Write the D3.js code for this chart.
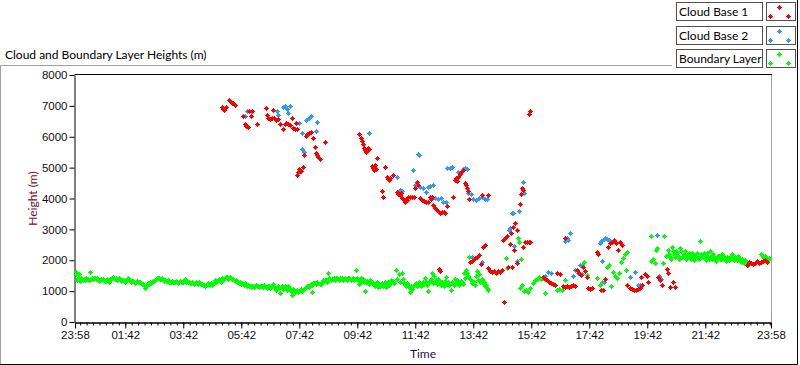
<!DOCTYPE html>
<html lang="en">
<head>
  <meta charset="utf-8">
  <title>Cloud and Boundary Layer Heights</title>
  <script src="https://d3js.org/d3.v7.min.js"></script>
  <style>
    body { margin: 0; background: #fff; }
    svg { display: block; font-family: Lato, "Noto Sans", sans-serif; }
    .axis text { font-size: 11.5px; fill: #111; }
    .axis .domain { stroke: #000; }
    .axis line { stroke: #000; }
  </style>
</head>
<body>
<script>
// [hours after 23:58, height in m]
var cloudBase1 = [
  [5.07,6970],[5.10,6900],[5.14,6870],[5.21,6950],[5.31,7190],[5.34,7160],[5.38,7140],[5.41,7100],[5.45,7080],[5.52,7030],
  [5.79,6670],[5.86,6410],[5.90,6350],[5.97,6330],[6.00,6840],[6.07,6670],[6.10,6840],[6.28,6410],
  [6.59,6930],[6.62,6700],[6.66,6620],[6.72,6580],[6.79,6620],[6.83,6870],[6.86,6600],[6.93,6540],[7.00,6580],
  [7.07,6410],[7.17,6250],[7.24,6400],[7.28,6450],[7.34,6420],[7.41,6380],[7.48,6610],[7.52,6280],[7.59,6260],
  [7.62,6450],[7.66,6250],[7.66,4760],[7.69,4850],[7.72,4950],[7.76,4900],[7.79,4900],[7.86,5020],[7.90,5410],
  [7.97,6030],[8.00,6080],[8.07,6120],[8.14,6150],[8.21,5960],[8.28,5670],[8.31,5470],[8.34,5400],[8.38,5340],
  [8.41,5300],[8.45,5280],[8.62,5830],
  [9.79,6090],[9.86,5960],[9.90,5860],[9.93,5770],[9.97,5620],[10.00,5560],[10.03,5510],[10.07,5580],[10.10,5640],
  [10.14,5600],[10.24,5060],[10.28,5000],[10.31,4920],[10.34,5090],[10.38,4950],[10.41,5310],[10.59,4240],[10.62,4050],
  [10.69,5020],[10.76,4700],[10.79,4620],[10.83,4600],[10.86,4650],[10.97,4760],[11.10,4210],[11.14,4150],[11.21,4110],
  [11.24,4180],[11.28,4020],[11.34,3950],[11.38,3900],[11.41,3980],[11.45,3950],[11.48,4050],[11.55,4050],[11.62,4050],
  [11.69,4060],[11.72,4340],[11.79,4540],[11.83,4440],[11.90,4020],[11.97,3960],[12.03,3930],[12.10,3880],[12.17,3900],
  [12.24,4050],[12.28,4000],[12.31,4050],[12.34,3780],[12.41,3700],[12.48,3620],[12.55,3560],[12.59,3530],[12.66,3560],
  [12.72,3560],[12.76,3530],[12.83,3760],[13.03,4050],[13.10,4600],[13.14,4650],[13.17,4560],[13.21,4700],[13.28,4780],
  [13.31,4850],[13.38,4920],[13.45,4500],[13.48,4440],[13.52,4340],[13.55,4240],[13.59,3980],[14.03,4110],[14.24,4110],
  [12.55,1720],[12.59,1650],
  [13.62,1940],[13.69,1960],[13.72,2000],[13.79,2060],[13.86,2100],[13.93,2170],[14.00,1880],[14.07,2430],[14.14,2490],
  [14.24,1750],[14.31,1650],[14.38,1620],[14.45,1650],[14.52,1600],[14.59,1640],[14.66,1620],[14.72,1680],[14.79,640],
  [14.76,2660],[14.83,2720],[14.90,2800],[14.93,1780],[15.00,2530],[15.03,2880],[15.07,1780],[15.10,3080],[15.14,2330],
  [15.17,3210],[15.24,2980],[15.24,1910],[15.34,3820],[15.38,4150],[15.41,4340],[15.45,4280],[15.45,2430],[15.52,2590],
  [15.59,2590],[15.66,2590],[15.69,2590],[15.66,6750],[15.69,6850],
  [16.14,1460],[16.21,1400],[16.28,1350],[16.34,1300],[16.41,1250],[16.48,1230],[16.55,1200],[16.62,1590],[16.72,1560],
  [16.83,1180],[16.90,1130],[16.90,2720],[16.97,1150],[17.03,1130],[17.10,1160],[17.17,1200],[17.24,1150],[17.31,1700],
  [17.38,1600],[17.45,1520],[17.52,1780],[17.59,1650],[17.66,1460],[17.69,1100],[17.76,1080],[17.83,1100],[18.00,2270],
  [18.03,2200],[18.14,1040],[18.21,1050],[18.28,1400],[18.38,2430],[18.45,2550],[18.52,2600],[18.59,2650],[18.66,2550],
  [18.72,2330],[18.79,2600],[18.86,2500],[19.03,1200],[19.14,1100],[19.21,1060],[19.28,1040],[19.34,1040],[19.41,1060],
  [19.48,1100],[19.52,1460],[19.55,1200],[19.66,1560],[19.72,1500],[19.76,1300],[20.10,1460],[20.17,1350],[20.24,1200],
  [20.41,1720],[20.45,1600],[20.52,1130],[20.62,1300],[20.69,1130],
  [23.17,1850],[23.24,1950],[23.31,1900],[23.38,1880],[23.45,1920],[23.52,1960],[23.59,1900],[23.66,1950],[23.72,1970],
  [23.79,2000],[23.86,1950]
];

var cloudBase2 = [
  [5.86,6670],[5.93,6840],[6.97,6840],[7.00,6700],[7.17,6950],[7.24,7000],[7.31,6900],[7.34,6770],[7.41,6980],
  [7.72,6450],[7.83,6120],[7.83,5600],[7.90,5500],[7.97,6540],[8.07,6600],[8.14,6670],[8.31,6190],[8.34,6480],
  [10.14,6120],[11.10,4700],[11.21,4280],[11.28,4230],[11.66,4920],[11.72,4440],[11.83,5440],[11.86,5400],[11.90,4380],
  [12.00,4340],[12.10,4210],[12.17,4380],[12.24,4400],[12.34,4440],[12.41,4020],[12.52,4000],[12.62,4020],[12.69,3890],
  [12.79,3900],[12.83,4990],[12.93,5000],[13.00,5020],[13.21,4860],[13.38,4960],[13.45,4980],[13.52,4950],[13.55,4180],
  [13.66,4150],[13.72,4000],[13.83,3950],[13.93,4020],[14.03,4050],[14.14,4000],[14.21,3980],[13.69,2100],[14.03,1940],
  [14.97,2980],[15.00,3050],[15.07,3530],[15.10,3530],[15.14,2460],[15.24,1980],[15.31,3600],[15.45,4540],[15.48,4180],
  [16.21,1500],[16.31,1620],[16.41,1590],[16.90,2620],[16.97,2720],[17.00,2650],[17.07,2880],[17.17,1500],[17.24,1700],
  [17.34,1600],[17.41,1850],[17.48,1550],[18.10,2560],[18.14,2620],[18.24,2700],[18.28,2720],[18.34,2680],[18.41,2640],
  [18.17,1960],[18.24,1300],[19.14,1460],[19.31,1620],[19.41,1200],[19.48,1200],[20.07,2820],[20.14,1500],[20.21,1400],
  [23.24,1940]
];

var boundaryLayer = [
  [0.03,1610],[0.03,1560],[0.07,1350],[0.14,1540],[0.17,1330],[0.24,1380],[0.31,1400],[0.38,1440],[0.45,1400],[0.52,1630],
  [0.59,1420],[0.66,1410],[0.72,1380],[0.79,1390],[0.86,1370],[0.93,1360],[1.00,1360],[1.07,1330],[1.14,1340],[1.21,1380],
  [1.28,1420],[1.34,1420],[1.41,1410],[1.48,1400],[1.55,1380],[1.62,1360],[1.69,1320],[1.76,1350],[1.83,1440],[1.90,1340],
  [1.97,1330],[2.03,1300],[2.10,1300],[2.17,1290],[2.24,1280],[2.31,1240],[2.38,1200],[2.41,1110],[2.48,1210],[2.55,1240],
  [2.62,1260],[2.69,1320],[2.76,1360],[2.83,1410],[2.90,1420],[2.97,1390],[3.03,1380],[3.10,1360],[3.17,1330],[3.24,1310],
  [3.31,1300],[3.38,1300],[3.45,1300],[3.52,1290],[3.59,1300],[3.66,1300],[3.72,1310],[3.79,1390],[3.86,1320],[3.93,1280],
  [4.00,1270],[4.07,1260],[4.14,1250],[4.21,1250],[4.28,1280],[4.34,1240],[4.41,1200],[4.48,1180],[4.55,1230],[4.62,1200],
  [4.69,1250],[4.76,1220],[4.83,1350],[4.90,1320],[4.97,1400],[5.03,1300],[5.10,1380],[5.17,1420],[5.24,1450],[5.31,1440],
  [5.38,1420],[5.45,1380],[5.52,1330],[5.59,1300],[5.66,1270],[5.72,1230],[5.79,1220],[5.86,1250],[5.93,1180],[6.00,1150],
  [6.07,1130],[6.14,1160],[6.21,1150],[6.28,1180],[6.34,1130],[6.41,1150],[6.48,1120],[6.55,1160],[6.62,1110],[6.69,1180],
  [6.76,1140],[6.83,1240],[6.93,1050],[7.00,1160],[7.07,940],[7.14,1180],[7.21,1120],[7.28,1080],[7.34,1150],[7.41,1060],
  [7.48,880],[7.55,1030],[7.62,1000],[7.69,980],[7.76,1040],[7.83,1010],[7.90,1060],[7.97,1130],[8.03,1150],[8.10,1190],
  [8.17,1200],[8.17,970],[8.24,1250],[8.31,1220],[8.38,1260],[8.45,1240],[8.48,1240],[8.55,1350],[8.62,1370],[8.69,1300],
  [8.72,1580],[8.79,1400],[8.86,1380],[8.93,1420],[9.00,1410],[9.07,1390],[9.14,1430],[9.21,1420],[9.28,1400],[9.34,1380],
  [9.41,1420],[9.48,1380],[9.55,1400],[9.62,1360],[9.69,1680],[9.72,1410],[9.79,1240],[9.86,1420],[9.93,1380],[10.00,1020],
  [10.03,1300],[10.10,1250],[10.17,1350],[10.24,1280],[10.31,1200],[10.38,1230],[10.45,1130],[10.52,1150],[10.59,1250],
  [10.66,1200],[10.72,1130],[10.79,1300],[10.86,1260],[10.97,1330],[11.07,1680],[11.17,1550],[11.28,1600],[11.34,1250],
  [11.41,1150],[11.48,1200],[11.55,980],[11.62,1080],[11.69,1200],[11.76,1260],[11.83,1230],[11.90,1250],[11.97,1200],
  [12.07,1420],[12.17,1020],[12.24,1320],[12.31,1600],[12.38,1480],[12.45,1360],[12.52,1400],[12.59,1250],[12.66,1310],
  [12.72,1180],[12.79,1470],[12.86,1300],[12.97,1050],[13.03,1220],[13.10,1380],[13.21,1300],[13.28,1260],[13.34,1280],
  [13.41,1600],[13.48,1680],[13.55,1500],[13.59,2100],[13.66,1350],[13.76,1280],[13.86,1650],[13.93,1550],[14.03,1400],
  [14.10,1300],[14.17,1200],[14.24,1030],
  [0.10,1420],[0.21,1440],[0.28,1350],[0.35,1360],[0.41,1380],[0.48,1350],[0.55,1400],[0.62,1380],[0.69,1440],[0.76,1420],
  [0.83,1340],[0.90,1400],[0.97,1390],[1.03,1330],[1.10,1380],[1.17,1310],[1.24,1400],[1.31,1450],[1.38,1380],[1.45,1370],
  [1.52,1420],[1.59,1330],[1.66,1360],[1.72,1300],[1.79,1390],[1.86,1380],[1.93,1300],[2.00,1340],[2.07,1270],[2.14,1330],
  [2.21,1300],[2.28,1270],[2.34,1220],[2.45,1180],[2.52,1250],[2.59,1290],[2.66,1280],[2.72,1340],[2.79,1390],[2.86,1440],
  [2.93,1380],[3.00,1410],[3.07,1340],[3.14,1330],[3.21,1350],[3.28,1280],[3.34,1330],[3.41,1280],[3.48,1320],[3.55,1270],
  [3.62,1320],[3.69,1280],[3.76,1330],[3.83,1300],[3.90,1300],[3.97,1250],[4.03,1290],[4.10,1230],[4.17,1280],[4.24,1220],
  [4.31,1260],[4.38,1230],[4.45,1210],[4.52,1200],[4.59,1260],[4.66,1220],[4.72,1190],[4.79,1260],[4.86,1300],[4.93,1360],
  [5.00,1350],[5.07,1410],[5.14,1380],[5.21,1460],[5.28,1400],[5.34,1470],[5.41,1390],[5.48,1350],[5.55,1370],[5.62,1290],
  [5.69,1310],[5.76,1260],[5.83,1200],[5.90,1230],[5.97,1200],[6.03,1180],[6.10,1170],[6.17,1130],[6.24,1190],[6.31,1150],
  [6.38,1180],[6.45,1160],[6.52,1200],[6.59,1130],[6.66,1150],[6.72,1100],[6.79,1200],[6.86,1120],[7.03,1100],[7.10,1120],
  [7.17,1060],[7.24,1150],[7.31,1040],[7.38,1100],[7.45,1020],[7.52,1060],[7.59,980],[7.66,1050],[7.72,1020],[7.79,1080],
  [7.86,1050],[7.93,1100],[8.00,1180],[8.07,1130],[8.14,1230],[8.21,1270],[8.28,1260],[8.34,1300],
  [8.52,1300],[8.59,1320],[8.66,1360],[8.76,1420],[8.83,1350],[8.90,1390],[8.97,1360],[9.03,1430],[9.10,1370],[9.17,1400],
  [9.24,1370],[9.31,1430],[9.38,1350],[9.45,1410],[9.52,1350],[9.59,1420],[9.66,1380],[9.76,1350],[9.83,1300],[9.90,1330],
  [9.97,1280],[10.07,1320],[10.14,1220],[10.21,1300],[10.28,1240],[10.34,1160],[10.41,1280],[10.48,1200],[10.55,1220],
  [10.62,1150],[10.69,1280],[10.76,1230],[10.83,1200],[10.90,1350],[11.00,1250],[11.10,1380],[11.21,1300],[11.31,1400],
  [11.38,1200],[11.45,1260],[11.52,1120],[11.59,1180],[11.66,1150],[11.72,1230],[11.79,1180],[11.86,1300],[11.93,1160],
  [12.00,1280],[12.03,1240],[12.10,1300],[12.14,1200],[12.21,1280],[12.28,1380],[12.34,1250],[12.41,1300],[12.48,1220],
  [12.55,1350],[12.62,1200],[12.69,1260],[12.76,1320],[12.83,1240],[12.90,1200],[13.00,1300],[13.07,1200],[13.14,1260],
  [13.17,1350],[13.24,1200],[13.31,1340],[13.38,1240],[13.45,1420],[13.52,1580],[13.62,1400],[13.69,1250],[13.72,1300],
  [13.79,1200],[13.83,1500],[13.90,1350],[13.97,1300],[14.07,1250],[14.14,1150],[14.21,1100],
  [14.86,2070],[14.90,1750],[15.28,2720],[15.31,2590],[15.38,2040],[15.34,1100],[15.41,1200],[15.48,1000],[15.55,1050],
  [15.62,960],[15.69,1100],[15.79,1260],[15.86,1350],[15.93,1400],[16.00,1460],[16.07,1380],[16.14,1420],[16.21,940],
  [16.62,1040],[16.69,1070],[16.79,1040],[16.90,1360],[17.48,1850],[17.55,1940],[17.59,1650],[17.66,1520],[18.00,1420],
  [18.10,1200],[18.17,1300],[18.34,1780],[18.41,1850],[18.48,1150],[18.55,1620],[18.62,1500],[18.69,1420],[18.76,1600],
  [18.83,1940],[18.90,2070],[18.97,2200],[19.03,2270],[19.00,1700],
  [19.86,2780],[19.86,1960],[19.93,2030],[20.00,1910],[20.03,2330],[20.07,2400],[20.28,1910],[20.31,2770],[20.45,2330],
  [20.52,2100],[20.59,2430],[20.66,2200],[20.72,2300],[20.79,2150],[20.86,2400],[20.93,2100],[21.00,2200],[21.07,2050],
  [21.14,2150],[21.21,2100],[21.28,2250],[21.34,2000],[21.41,2200],[21.48,2100],[21.55,2620],[21.62,2150],[21.69,2250],
  [21.76,2000],[21.83,2120],[21.90,2300],[21.97,2050],[22.03,2100],[22.10,1980],[22.17,2150],[22.24,2030],[22.31,2200],
  [22.38,2080],[22.45,1960],[22.52,2050],[22.59,2100],[22.66,2200],[22.72,2000],[22.79,2050],[22.86,2150],[22.93,1980],
  [23.00,2050],[23.07,1900],[23.14,1950],[23.21,1850],[23.66,2200],[23.83,2070],[23.93,2070],
  [20.38,2150],[20.48,2200],[20.55,2050],[20.62,2300],[20.69,2100],[20.76,2250],[20.83,2050],[20.90,2300],[20.97,2150],
  [21.03,2300],[21.10,2150],[21.17,2250],[21.24,2050],[21.31,2150],[21.38,2100],[21.45,2250],[21.52,2050],[21.59,2200],
  [21.66,2100],[21.72,2150],[21.79,2250],[21.86,2050],[21.93,2150],[22.00,2200],[22.07,2050],[22.14,2100],[22.21,2150],
  [22.28,2050],[22.34,2150],[22.41,2000],[22.48,2100],[22.55,2000],[22.62,2150],[22.69,2050],[22.76,2100],[22.83,2000],
  [22.90,2080],[22.97,1950],[23.03,2000],[23.10,2000],[23.28,1900],[23.72,2100],[23.79,2150],[23.90,2000]
];

var yTicks = [0, 1000, 2000, 3000, 4000, 5000, 6000, 7000, 8000];
var xTickLabels = ["23:58","01:42","03:42","05:42","07:42","09:42","11:42","13:42","15:42","17:42","19:42","21:42","23:58"];

var seriesNames = ["Cloud Base 1", "Cloud Base 2", "Boundary Layer"];
var seriesColors = ["#ff0000", "#3399ff", "#00ff00"];

var width = 800, height = 365;
var plot = { left: 75, right: 771, top: 75, bottom: 322 };

var start = new Date(2000, 0, 1, 23, 58);
function toTime(h) { return new Date(+start + h * 36e5); }

var x = d3.scaleTime().domain([start, toTime(24)]).range([plot.left, plot.right]);
var y = d3.scaleLinear().domain([0, 8000]).range([plot.bottom, plot.top]);

var svg = d3.select('body').append('svg')
  .attr('width', width)
  .attr('height', height);

// outer frame
svg.append('path').attr('d', 'M0.5,364V65.5H672').attr('fill', 'none').attr('stroke', '#a0a0a0');
svg.append('path').attr('d', 'M0,364.5H797.5V0').attr('fill', 'none').attr('stroke', '#000');

svg.append('text')
  .attr('x', 5).attr('y', 59)
  .style('font-size', '12px').style('fill', '#000')
  .text('Cloud and Boundary Layer Heights (m)');

// plot box
svg.append('path').attr('d', 'M' + (plot.right + 0.5) + ',' + plot.top + 'V' + plot.bottom)
  .attr('stroke', '#a0a0a0').attr('fill', 'none');
svg.append('path').attr('d', 'M' + (plot.left - 0.5) + ',' + (plot.top - 0.5) + 'H' + (plot.right + 1))
  .attr('stroke', '#000').attr('fill', 'none');

// ticks
var majors = xTickLabels.map(function(s, i) {
  var p = s.split(':'), m = (+p[0] * 60 + +p[1] - (23 * 60 + 58) + 1440) % 1440;
  if (i > 0 && m === 0) m = 1440;
  return toTime(m / 60);
});
var minors = [];
for (var k = -8; k < 120; k++) {
  var tm = +majors[1] + k * 800e3;
  if (tm > +start && tm < +majors[majors.length - 1]) minors.push(new Date(tm));
}

svg.append('g').attr('class', 'x axis minor')
  .attr('transform', 'translate(0,' + (plot.bottom + 0.5) + ')')
  .call(d3.axisBottom(x).tickValues(minors).tickSize(3).tickSizeOuter(0).tickFormat(''));

svg.append('g').attr('class', 'x axis')
  .attr('transform', 'translate(0,' + (plot.bottom + 0.5) + ')')
  .call(d3.axisBottom(x).tickValues(majors).tickSize(6).tickSizeOuter(0).tickPadding(2)
    .tickFormat(d3.timeFormat('%H:%M')));

svg.append('g').attr('class', 'y axis')
  .attr('transform', 'translate(' + (plot.left - 0.5) + ',0)')
  .call(d3.axisLeft(y).tickValues(yTicks).tickSize(5).tickSizeOuter(0).tickPadding(2)
    .tickFormat(d3.format('d')));

svg.append('text')
  .attr('x', (plot.left + plot.right) / 2).attr('y', 358)
  .attr('text-anchor', 'middle')
  .style('font-size', '12px').style('fill', '#1d1440')
  .text('Time');

svg.append('text')
  .attr('transform', 'translate(37,' + ((plot.top + plot.bottom) / 2) + ') rotate(-90)')
  .attr('text-anchor', 'middle')
  .style('font-size', '12px').style('fill', '#6b0f24')
  .text('Height (m)');

// plus markers with a solid centre
function plus(px, py) {
  px = Math.round(px); py = Math.round(py);
  return 'M' + (px - 2) + ',' + py + 'h5v1h-5z' + 'M' + px + ',' + (py - 2) + 'h1v5h-1z'
    + 'M' + (px - 1) + ',' + (py - 1) + 'h3v3h-3z';
}
function drawSeries(data, color) {
  svg.append('path')
    .attr('fill', color)
    .attr('shape-rendering', 'crispEdges')
    .attr('d', data.map(function(d) { return plus(x(toTime(d[0])), y(d[1])); }).join(''));
}
drawSeries(boundaryLayer, seriesColors[2]);
drawSeries(cloudBase2, seriesColors[1]);
drawSeries(cloudBase1, seriesColors[0]);

// legend
var legend = svg.append('g');
seriesNames.forEach(function(name, i) {
  var ty = Math.round(2 + i * 23.5);
  legend.append('rect').attr('x', 676.5).attr('y', ty + 0.5).attr('width', 86).attr('height', 18)
    .attr('fill', '#fff').attr('stroke', '#505050');
  legend.append('text').attr('x', 679).attr('y', ty + 14)
    .style('font-size', '12px').style('fill', '#000').text(name);
  legend.append('rect').attr('x', 766.5).attr('y', ty + 0.5).attr('width', 29).attr('height', 18)
    .attr('fill', '#fff').attr('stroke', '#505050');
  legend.append('path').attr('fill', seriesColors[i]).attr('shape-rendering', 'crispEdges')
    .attr('d', plus(779, ty + 5) + plus(770, ty + 14) + plus(788, ty + 14));
});
</script>
</body>
</html>
